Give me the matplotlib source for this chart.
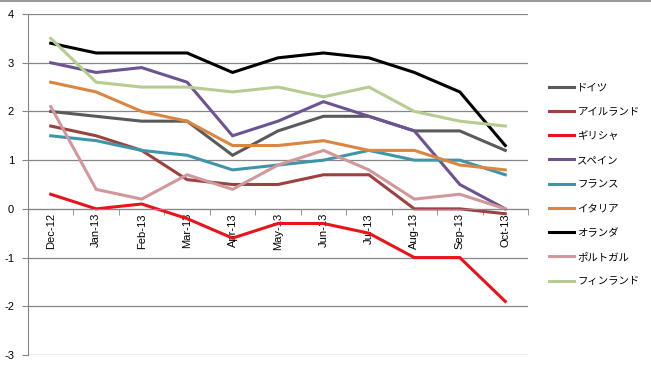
import matplotlib
matplotlib.use('Agg')
import matplotlib.pyplot as plt
from matplotlib.ticker import MultipleLocator, FixedLocator

plt.rcParams['font.family'] = ['Liberation Sans', 'Noto Sans CJK JP', 'DejaVu Sans']
plt.rcParams['axes.unicode_minus'] = False

months = ['Dec-12', 'Jan-13', 'Feb-13', 'Mar-13', 'Apr-13', 'May-13',
          'Jun-13', 'Jul-13', 'Aug-13', 'Sep-13', 'Oct-13']

germany     = [2.0, 1.9, 1.8, 1.8, 1.1, 1.6, 1.9, 1.9, 1.6, 1.6, 1.2]
ireland     = [1.7, 1.5, 1.2, 0.6, 0.5, 0.5, 0.7, 0.7, 0.0, 0.0, -0.1]
greece      = [0.3, 0.0, 0.1, -0.2, -0.6, -0.3, -0.3, -0.5, -1.0, -1.0, -1.9]
spain       = [3.0, 2.8, 2.9, 2.6, 1.5, 1.8, 2.2, 1.9, 1.6, 0.5, 0.0]
france      = [1.5, 1.4, 1.2, 1.1, 0.8, 0.9, 1.0, 1.2, 1.0, 1.0, 0.7]
italy       = [2.6, 2.4, 2.0, 1.8, 1.3, 1.3, 1.4, 1.2, 1.2, 0.9, 0.8]
netherlands = [3.4, 3.2, 3.2, 3.2, 2.8, 3.1, 3.2, 3.1, 2.8, 2.4, 1.3]
portugal    = [2.1, 0.4, 0.2, 0.7, 0.4, 0.9, 1.2, 0.8, 0.2, 0.3, 0.0]
finland     = [3.5, 2.6, 2.5, 2.5, 2.4, 2.5, 2.3, 2.5, 2.0, 1.8, 1.7]

series = [
    ('ドイツ', germany, '#5a5a5a'),
    ('アイルランド', ireland, '#9b4241'),
    ('ギリシャ', greece, '#e8141a'),
    ('スペイン', spain, '#6c5493'),
    ('フランス', france, '#3f95a8'),
    ('イタリア', italy, '#da8540'),
    ('オランダ', netherlands, '#000000'),
    ('ポルトガル', portugal, '#d2979a'),
    ('フィンランド', finland, '#b6cc93'),
]

fig = plt.figure(figsize=(6.51, 3.65), dpi=100)
ax = fig.add_axes([28 / 651, 1 - 355 / 365, 500 / 651, 341 / 365])

x = list(range(len(months)))
for name, vals, col in series:
    ax.plot(x, vals, color=col, lw=2.2, label=name, solid_joinstyle='miter')

ax.set_xlim(-0.5, len(months) - 0.5)
ax.set_ylim(-3, 4)
ax.yaxis.set_major_locator(MultipleLocator(1))
ax.grid(axis='y', color='#868686', lw=0.9)
ax.set_axisbelow(True)

for s in ['top', 'right']:
    ax.spines[s].set_visible(False)
ax.spines['left'].set_color('#868686')
ax.spines['bottom'].set_color('#868686')
ax.spines['bottom'].set_position(('data', 0))

ax.set_xticks(x)
ax.set_xticklabels(months, rotation=90, fontsize=8)
ax.xaxis.set_minor_locator(FixedLocator([i - 0.5 for i in range(len(months) + 1)]))
ax.tick_params(axis='x', which='major', length=0, pad=3)
ax.tick_params(axis='x', which='minor', length=4, color='#868686', direction='out')
ax.tick_params(axis='y', length=4, color='#868686', labelsize=8, pad=6)

ax.legend(loc='upper left', bbox_to_anchor=(545 / 651, 1 - 78 / 365),
          bbox_transform=fig.transFigure, frameon=False, fontsize=7.5,
          handlelength=2.4, handletextpad=0.3, labelspacing=1.37,
          borderaxespad=0)

fig.add_artist(plt.Line2D([0, 1], [1 - 0.5 / 365] * 2, transform=fig.transFigure,
                          color='#868686', lw=1.2))

fig.savefig('out.png', dpi=100)
